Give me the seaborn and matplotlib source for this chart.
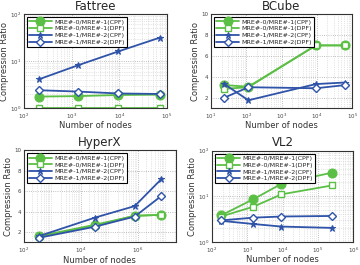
import numpy as np
import pandas as pd
import matplotlib
matplotlib.use("Agg")
import matplotlib.pyplot as plt
import seaborn as sns
from matplotlib.ticker import LogLocator, NullFormatter

sns.set_style("white")
plt.rcParams['font.family'] = ['DejaVu Sans']

labels = ["MRE#-0/MRE#-1(CPF)", "MRE#-0/MRE#-1(DPF)",
          "MRE#-1/MRE#-2(CPF)", "MRE#-1/MRE#-2(DPF)"]

# Fattree
fat_x = [208, 1344, 9472, 70656]
fat_cpf01 = [1.76, 1.8, 1.9, 1.93]
fat_dpf01 = [1.0, 1.0, 1.0, 1.0]
fat_cpf12 = [4.1, 8.1, 16.0, 31.5]
fat_dpf12 = [2.4, 2.25, 2.05, 2.0]

# BCube
bc_x = [24, 115, 9400, 62000]
bc_cpf01 = [3.2, 3.05, 7.0, 7.0]
bc_dpf01 = [2.85, 3.0, 7.0, 7.0]
bc_cpf12 = [3.3, 1.75, 3.3, 3.45]
bc_dpf12 = [2.0, 3.0, 2.9, 3.2]

# HyperX
hx_x = [340, 32000, 790000, 6900000]
hx_cpf01 = [1.62, 2.73, 3.6, 3.7]
hx_dpf01 = [1.55, 2.64, 3.6, 3.7]
hx_cpf12 = [1.62, 3.43, 4.55, 7.2]
hx_dpf12 = [1.46, 2.54, 3.53, 5.55]

# VL2
vl_x = [180, 1480, 9300, 250000]
vl_cpf01 = [3.8, 8.6, 18.7, 32.8]
vl_dpf01 = [3.6, 5.9, 11.0, 17.2]
vl_cpf12 = [2.9, 2.47, 2.17, 2.03]
vl_dpf12 = [2.96, 3.4, 3.6, 3.7]

GREEN = "#5cbf45"
BLUE = "#2f53a8"
styles = [
    dict(color=GREEN, marker="o", markersize=6.5, markerfacecolor=GREEN, markeredgecolor=GREEN),
    dict(color=GREEN, marker="s", markersize=4.5, markerfacecolor="white", markeredgecolor=GREEN, markeredgewidth=1),
    dict(color=BLUE, marker="*", markersize=5, markerfacecolor=BLUE, markeredgecolor=BLUE),
    dict(color=BLUE, marker="D", markersize=4, markerfacecolor="white", markeredgecolor=BLUE, markeredgewidth=1),
]

fig = plt.figure(figsize=(3.6, 2.65), dpi=100)

panels = [
    ("Fattree", fat_x, [fat_cpf01, fat_dpf01, fat_cpf12, fat_dpf12], [0.066, 0.592, 0.398, 0.355],
     (1e2, 1e5), "log", (1, 100)),
    ("BCube", bc_x, [bc_cpf01, bc_dpf01, bc_cpf12, bc_dpf12], [0.586, 0.592, 0.392, 0.355],
     (1e1, 1e5), "linear", (1, 10)),
    ("HyperX", hx_x, [hx_cpf01, hx_dpf01, hx_cpf12, hx_dpf12], [0.066, 0.085, 0.423, 0.348],
     (1e2, 10 ** 7.35), "linear", (1, 10)),
    ("VL2", vl_x, [vl_cpf01, vl_dpf01, vl_cpf12, vl_dpf12], [0.589, 0.087, 0.392, 0.345],
     (1e2, 1e6), "log", (1, 100)),
]

for title, xs, series, pos, xlim, yscale, ylim in panels:
    ax = fig.add_axes(pos)
    for lab, ys, st in zip(labels, series, styles):
        df = pd.DataFrame({"x": xs, "y": ys})
        sns.lineplot(data=df, x="x", y="y", ax=ax, label=lab, linewidth=1.3, **st)
    ax.set_xscale("log")
    ax.set_yscale(yscale)
    ax.set_xlim(*xlim)
    ax.set_ylim(*ylim)
    ax.xaxis.set_major_locator(LogLocator(base=10, subs=(1.0,), numticks=20))
    if title == "HyperX":
        ax.set_xticks([1e2, 1e4, 1e6])
    ax.xaxis.set_minor_locator(LogLocator(base=10, subs=np.arange(2, 10), numticks=50))
    ax.xaxis.set_minor_formatter(NullFormatter())
    if yscale == "log":
        ax.yaxis.set_major_locator(LogLocator(base=10, subs=(1.0,), numticks=20))
        ax.yaxis.set_minor_locator(LogLocator(base=10, subs=np.arange(2, 10), numticks=50))
        ax.yaxis.set_minor_formatter(NullFormatter())
    else:
        ax.set_yticks([2, 4, 6, 8, 10])
    ax.grid(True, which="major", linestyle=":", color="#aaaaaa", linewidth=0.6)
    ax.grid(True, which="minor", linestyle=":", color="#cccccc", linewidth=0.5)
    ax.tick_params(axis="both", which="major", labelsize=4, length=2, direction="in",
                   labelcolor="#444444")
    ax.tick_params(axis="x", which="major", pad=2.5)
    ax.tick_params(axis="y", which="major", pad=2)
    ax.tick_params(axis="both", which="minor", length=1, direction="in")
    for s in ax.spines.values():
        s.set_color("#333333")
        s.set_linewidth(0.8)
    ax.set_title(title, fontsize=8.5, pad=3)
    ax.set_xlabel("Number of nodes", fontsize=6, labelpad=0.3, color="#333333")
    ax.set_ylabel("Compression Ratio", fontsize=6, labelpad=0.8, color="#333333")
    leg = ax.legend(loc="upper left", fontsize=4.6, frameon=True, fancybox=False,
                    borderpad=0.3, labelspacing=0.2, handlelength=3.6,
                    handletextpad=0.4, borderaxespad=0.5)
    leg.get_frame().set_edgecolor("black")
    leg.get_frame().set_linewidth(0.8)
    leg.get_frame().set_alpha(1)

fig.savefig("out.png", dpi=100)
